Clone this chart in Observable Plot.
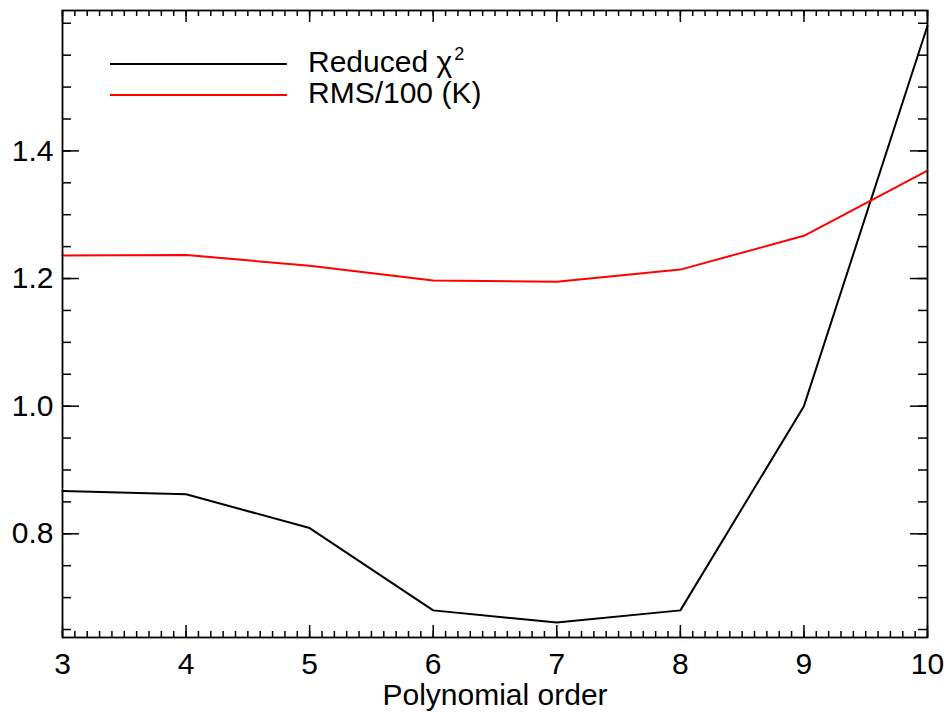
<!DOCTYPE html>
<html>
<head>
<meta charset="utf-8">
<script src="https://cdn.jsdelivr.net/npm/d3@7"></script>
<script src="https://cdn.jsdelivr.net/npm/@observablehq/plot@0.6"></script>
<style>
  html, body { margin: 0; padding: 0; background: #fff; }
  #wrap { position: relative; width: 945px; height: 715px; font-family: "Liberation Sans", Arial, Helvetica, sans-serif; }
  #legend { position: absolute; left: 0; top: 0; pointer-events: none; }
</style>
</head>
<body>
<div id="wrap"></div>
<script>
// Data
const polyOrder = [3, 4, 5, 6, 7, 8, 9, 10];
const reducedChi2 = [0.867, 0.862, 0.809, 0.680, 0.661, 0.680, 1.000, 1.596];
const rmsOver100 = [1.236, 1.237, 1.220, 1.197, 1.195, 1.214, 1.267, 1.369];

const seriesNames = ["Reduced χ²", "RMS/100 (K)"];
const seriesColors = ["#000000", "#ff0000"];

const xTickLabels = [3, 4, 5, 6, 7, 8, 9, 10];
const yTickLabels = [0.8, 1.0, 1.2, 1.4];
const xDomain = [3, 10];
const yDomain = [0.6375, 1.62];

const xMinor = d3.range(30, 101).map(d => d / 10);
const yMinor = d3.range(13, 33).map(d => d / 20);

const W = 945, H = 715;
const mL = 62, mR = 18, mT = 10, mB = 78;
const pw = W - mL - mR, ph = H - mT - mB;

const rows = [];
polyOrder.forEach((x, i) => {
  rows.push({x, y: reducedChi2[i], s: seriesNames[0]});
  rows.push({x, y: rmsOver100[i], s: seriesNames[1]});
});

const FS = 30;
const yMajLen = 17, yMinLen = 9, xMajLen = 12, xMinLen = 6;

const chart = Plot.plot({
  width: W, height: H,
  marginLeft: mL, marginRight: mR, marginTop: mT, marginBottom: mB,
  style: {fontFamily: '"Liberation Sans", Arial, Helvetica, sans-serif', fontSize: FS + "px", color: "#000", background: "#fff"},
  x: {domain: xDomain},
  y: {domain: yDomain},
  color: {domain: seriesNames, range: seriesColors},
  marks: [
    // y ticks left & right
    Plot.tickY(yMinor, {y: d => d, insetRight: pw - yMinLen, stroke: "#000", strokeWidth: 1.5}),
    Plot.tickY(yMinor, {y: d => d, insetLeft: pw - yMinLen, stroke: "#000", strokeWidth: 1.5}),
    Plot.tickY(yTickLabels, {y: d => d, insetRight: pw - yMajLen, stroke: "#000", strokeWidth: 1.5}),
    Plot.tickY(yTickLabels, {y: d => d, insetLeft: pw - yMajLen, stroke: "#000", strokeWidth: 1.5}),
    // x ticks bottom & top
    Plot.tickX(xMinor, {x: d => d, insetTop: ph - xMinLen, stroke: "#000", strokeWidth: 1.5}),
    Plot.tickX(xMinor, {x: d => d, insetBottom: ph - xMinLen, stroke: "#000", strokeWidth: 1.5}),
    Plot.tickX(xTickLabels, {x: d => d, insetTop: ph - xMajLen, stroke: "#000", strokeWidth: 1.5}),
    Plot.tickX(xTickLabels, {x: d => d, insetBottom: ph - xMajLen, stroke: "#000", strokeWidth: 1.5}),
    Plot.axisX({ticks: xTickLabels, tickSize: 0, tickPadding: 15, tickFormat: d => String(d), label: null, fontSize: FS}),
    Plot.axisY({ticks: yTickLabels, tickSize: 0, tickPadding: 9, tickFormat: d3.format(".1f"), label: null, fontSize: FS}),
    Plot.text(["Polynomial order"], {frameAnchor: "bottom", dy: 67, lineAnchor: "bottom", fontSize: FS, fill: "#000"}),
    Plot.line(rows, {x: "x", y: "y", z: "s", stroke: "s", strokeWidth: 2}),
    Plot.frame({stroke: "#000", strokeWidth: 1.8})
  ]
});

const wrap = document.getElementById("wrap");
wrap.appendChild(chart);

// Legend overlay (top-left inside plot)
const ns = "http://www.w3.org/2000/svg";
const leg = document.createElementNS(ns, "svg");
leg.setAttribute("id", "legend");
leg.setAttribute("width", 520);
leg.setAttribute("height", 120);
const lineY = [64, 95];
seriesNames.forEach((name, i) => {
  const l = document.createElementNS(ns, "line");
  l.setAttribute("x1", 110); l.setAttribute("x2", 287);
  l.setAttribute("y1", lineY[i]); l.setAttribute("y2", lineY[i]);
  l.setAttribute("stroke", seriesColors[i]); l.setAttribute("stroke-width", 2);
  leg.appendChild(l);
  const t = document.createElementNS(ns, "text");
  t.setAttribute("x", 308); t.setAttribute("y", lineY[i] + 8);
  t.setAttribute("font-size", FS);
  t.setAttribute("font-family", '"Liberation Sans", Arial, Helvetica, sans-serif');
  t.setAttribute("fill", "#000");
  if (i === 0) {
    const a = document.createElementNS(ns, "tspan");
    a.textContent = "Reduced χ";
    const b = document.createElementNS(ns, "tspan");
    b.textContent = "2";
    b.setAttribute("font-size", 18);
    b.setAttribute("dy", -12);
    b.setAttribute("dx", 2);
    t.appendChild(a); t.appendChild(b);
  } else {
    t.textContent = name;
  }
  leg.appendChild(t);
});
wrap.appendChild(leg);
</script>
</body>
</html>
